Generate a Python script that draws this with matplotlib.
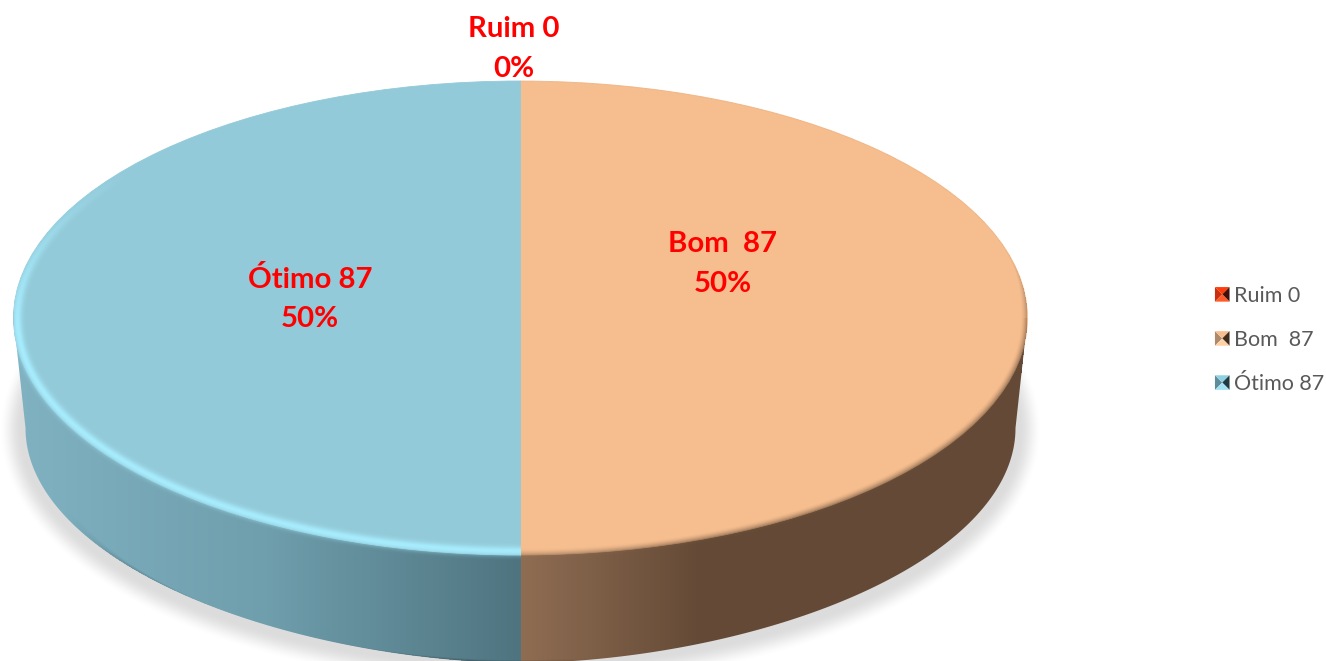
# -*- coding: utf-8 -*-
import numpy as np
import matplotlib
matplotlib.use('Agg')
import matplotlib.pyplot as plt
from matplotlib.colors import LinearSegmentedColormap, to_rgb
from matplotlib.legend_handler import HandlerBase
from matplotlib.patches import PathPatch, Patch, Polygon
from matplotlib.path import Path

# Data
categories = ['Ruim', 'Bom ', 'Ótimo']
values = [0, 87, 87]
percents = [0, 50, 50]

# Colours
slice_colors = ['#d9340f', '#f6bd8e', '#93cad9']
marker_colors = [
    ['#c8300f', '#ff3c0a', '#401008', '#ff5a28'],
    ['#ad8a6b', '#f6bd8e', '#3f2c1c', '#ffd2a6'],
    ['#5f8c9a', '#8fd0e2', '#1f3a42', '#a2e2f4'],
]
side_left = ['#80b2c2', '#6f9eac', '#4f7480']
side_right = ['#8f6d53', '#644a36', '#644a36']

# Layout in pixels
W, H = 1326, 661
cx, cy, rx, ry = 520.5, 318, 507, 237
cy2, rx2, ry2 = 428, 495, 235


class PyramidHandler(HandlerBase):
    def create_artists(self, legend, orig, xd, yd, w, h, fs, trans):
        cols = orig.pyramid
        s = 10.5
        x0, y0 = w - s, (h - s) / 2
        c = (x0 + s / 2, y0 + s / 2)
        a, b, d, e = (x0, y0), (x0, y0 + s), (x0 + s, y0 + s), (x0 + s, y0)
        tris = [[a, b, c], [b, d, c], [d, e, c], [e, a, c]]
        return [Polygon(t, closed=True, fc=col, ec='none', transform=trans)
                for t, col in zip(tris, cols)]


def smooth(a):
    a = np.clip(a, 0, 1)
    return a * a * (3 - 2 * a)


def show(axis, img, z):
    return axis.imshow(img, extent=(0, W, H, 0), aspect='auto', zorder=z)


fig = plt.figure(figsize=(W / 100, H / 100), dpi=100)
yy, xx = np.mgrid[0:H, 0:W] + 0.5

# Shadow and side wall
ax_bg = fig.add_axes([0, 0, 1, 1], zorder=0)
ax_bg.set_xlim(0, W)
ax_bg.set_ylim(H, 0)
ax_bg.axis('off')

su, sv = (xx - cx) / 522, (yy - 430) / 258
r_sh = np.maximum(np.hypot(su, sv), 1e-6)
d_sh = (1 - r_sh) / np.maximum(np.hypot(su / 522, sv / 258) / r_sh, 1e-6)
shadow = np.zeros((H, W, 4))
shadow[..., 3] = 0.14 * smooth(d_sh / 24)
show(ax_bg, shadow, 1)

shares = np.cumsum(values) / np.sum(values)
split_x = cx + rx * np.sin(2 * np.pi * shares[1])
t = np.linspace(np.pi, 0, 300)
side_xy = np.column_stack([
    np.r_[cx - rx, cx + rx2 * np.sign(np.cos(t)) * np.abs(np.cos(t)) ** 1.1, cx + rx],
    np.r_[cy, cy2 + ry2 * np.sin(t), cy],
])
side_path = Path(np.vstack([side_xy, side_xy[0]]), closed=True)
in_wall = side_path.contains_points(np.column_stack([xx.ravel(), yy.ravel()])).reshape(H, W)

cm_left = LinearSegmentedColormap.from_list('l', side_left)
cm_right = LinearSegmentedColormap.from_list('r', side_right)
xs = np.arange(W) + 0.5
grad = np.zeros((1, W, 3))
left = xs < split_x
grad[0, left] = cm_left((xs[left] - (cx - rx)) / (split_x - (cx - rx)))[:, :3]
grad[0, ~left] = cm_right(np.clip((xs[~left] - split_x) / 360, 0, 1))[:, :3]
side_im = show(ax_bg, grad, 2)
side_im.set_clip_path(PathPatch(side_path, transform=ax_bg.transData))

# bottom edge of the wall gets a bit darker
rb = np.hypot((xx - cx) / (rx2 - 8), (yy - cy2) / ry2)
edge = np.zeros((H, W, 4))
edge[..., 3] = 0.30 * smooth((rb - 0.985) / 0.015) * in_wall * smooth((cx + 80 - xx) / 80) * smooth((xx - 60) / 120)
show(ax_bg, edge, 3)

# Top face
ax = fig.add_axes([(cx - rx) / W, (H - cy - ry) / H, 2 * rx / W, 2 * ry / H], zorder=1)
wedges, _ = ax.pie(values, colors=slice_colors, startangle=90, counterclock=False, radius=1,
                   wedgeprops={'linewidth': 0.6})
for wd, val in zip(wedges, values):
    wd.set_edgecolor(wd.get_facecolor())
    wd.set_visible(val > 0)
ax.set_aspect('auto')
ax.set_xlim(-1, 1)
ax.set_ylim(-1, 1)

# Bevel on the rim of the top face
ax_top = fig.add_axes([0, 0, 1, 1], zorder=2)
ax_top.set_xlim(0, W)
ax_top.set_ylim(H, 0)
ax_top.axis('off')
ax_top.patch.set_alpha(0)

u, v = (xx - cx) / rx, (yy - cy) / ry
r = np.maximum(np.hypot(u, v), 1e-6)
gx, gy = u / rx / r, v / ry / r
gn = np.hypot(gx, gy)
d = (1 - r) / gn              # pixels inside the rim, negative outside
nx, ny = gx / gn, gy / gn     # ny > 0 points down the image
light = np.clip(-0.7 * nx + 0.7 * ny + 0.25, 0, 1)
is_left = xx < split_x
inside = (d > 0) | in_wall

# dark blurred lip on the peach half, thin above and wider lower down
w_lip = 1.5 + 5.5 * smooth((ny + 0.6) / 0.6)
lip = np.zeros((H, W, 4))
lip[..., :3] = grad[0, :, :][None, :, :]
lip[..., 3] = smooth((w_lip - d) / (w_lip + 6)) * inside * ~is_left * (d > -7)
lip[..., 3] *= np.where(ny < 0, 0.75, 1.0)
show(ax_top, lip, 1)

# highlight on the rim
bevel = np.zeros((H, W, 4))
bevel[..., :3] = np.where(is_left[..., None], np.array(to_rgb('#a8eeff')), np.array(to_rgb('#ffd0a4')))
hi = np.exp(-((d - 4) / 4.5) ** 2) * light ** 0.8
bevel[..., 3] = np.clip(hi, 0, 1) * np.where(is_left, 0.95, 0.12) * inside * (d > -9)
show(ax_top, bevel, 2)
ax_top.set_xlim(0, W)
ax_top.set_ylim(H, 0)

# Data labels
font = ['Lato', 'DejaVu Sans']
label_pos = [(514, 49), (723, 264), (310, 299)]
for cat, val, pct, (lx, ly) in zip(categories, values, percents, label_pos):
    ax_top.text(lx, ly, f'{cat} {val}\n{pct}%', color='#ff0000', fontsize=21.2, fontweight='bold',
                family=font, ha='center', va='center', linespacing=1.62, zorder=5)

# Legend
handles = []
for cat, val, cols in zip(categories, values, marker_colors):
    p = Patch(label=f'{cat} {val}')
    p.pyramid = cols
    handles.append(p)
fig.legend(handles=handles, loc='center left', bbox_to_anchor=(1208 / W, 1 - 340 / H),
           frameon=False, handler_map={Patch: PyramidHandler()},
           prop={'family': font, 'size': 15.5}, labelcolor='#595959',
           labelspacing=1.12, handlelength=1.0, handleheight=0.7, handletextpad=0.2,
           borderpad=0, borderaxespad=0).set_zorder(5)

fig.savefig('out.png', dpi=100)
